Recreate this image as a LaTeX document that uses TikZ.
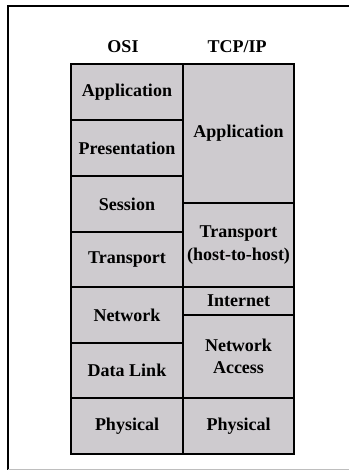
\documentclass[tikz,border=0pt]{standalone}
\usepackage{fontspec}
\setmainfont{Liberation Serif}
\definecolor{layergray}{RGB}{206,203,207}
\definecolor{framegray}{RGB}{190,190,190}
\newcommand{\lfont}{\fontsize{18}{22.5}\selectfont\bfseries}
\begin{document}
\begin{tikzpicture}[x=1pt,y=-1pt,
  layer/.style={draw=black, line width=1.7pt, fill=layergray, inner sep=0pt,
    font=\lfont, align=center},
  osil/.style={layer, minimum width=112pt},
  tcpl/.style={layer, minimum width=111pt},
  head/.style={font=\lfont}]
\useasboundingbox (0,0) rectangle (349,470);
\draw[line width=1.6pt] (8,470) -- (8,6) -- (349,6);
\draw[framegray, line width=0.8pt] (8,469) -- (349,469);
\node[head] (hosi) at (123,47) {OSI};
\node[head] (htcp) at (237,47) {TCP/IP};
% OSI column
\node[osil, minimum height=56pt] (oapp) at (127,92) {Application};
\node[osil, minimum height=56pt] (opre) at (127,148) {Presentation};
\node[osil, minimum height=56pt] (oses) at (127,204) {Session};
\node[osil, minimum height=55pt] (otra) at (127,259.5) {Transport};
\node[osil, minimum height=56pt] (onet) at (127,315) {Network};
\node[osil, minimum height=55pt] (odat) at (127,370.5) {Data Link};
\node[osil, minimum height=56pt] (ophy) at (127,426) {Physical};
% TCP/IP column
\node[tcpl, minimum height=139pt] (tapp) at (238.5,133.5) {Application};
\node[tcpl, minimum height=84pt] (ttra) at (238.5,245) {Transport\\(host-to-host)};
\node[tcpl, minimum height=28pt] (tint) at (238.5,301) {Internet};
\node[tcpl, minimum height=83pt] (tnac) at (238.5,356.5) {Network\\Access};
\node[tcpl, minimum height=56pt] (tphy) at (238.5,426) {Physical};
\end{tikzpicture}
\end{document}
